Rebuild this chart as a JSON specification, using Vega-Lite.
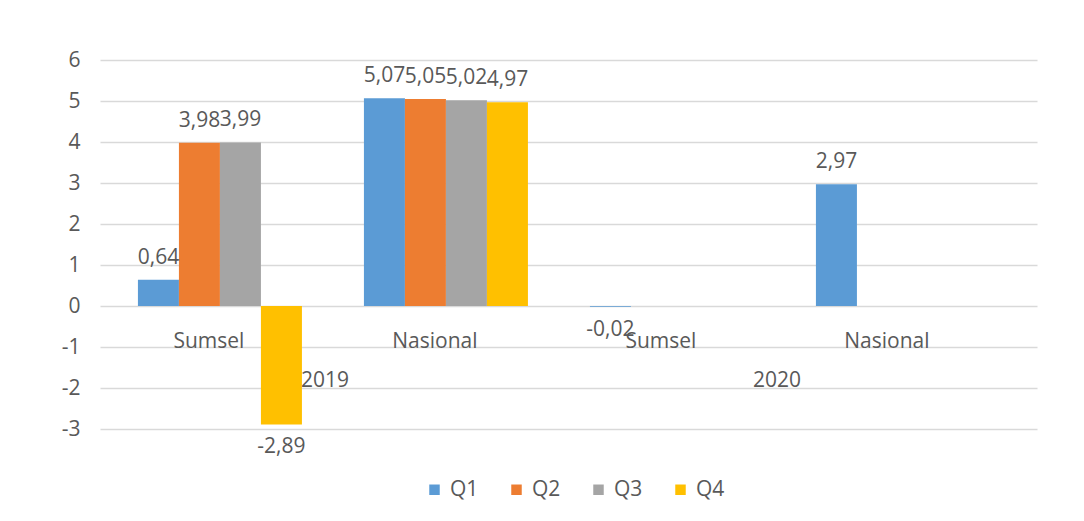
{
  "$schema": "https://vega.github.io/schema/vega-lite/v6.json",
  "width": 937,
  "height": 369,
  "autosize": {"type": "none"},
  "padding": {"left": 100, "top": 60, "right": 47, "bottom": 92},
  "background": "white",
  "config": {
    "view": {"stroke": null},
    "font": "Open Sans",
    "locale": {"number": {"decimal": ",", "thousands": ".", "grouping": [3], "currency": ["", ""], "minus": "-"}}
  },
  "data": {
    "values": [
      {"year": "2019", "region": "Sumsel", "group": "2019 Sumsel", "quarter": "Q1", "value": 0.64},
      {"year": "2019", "region": "Sumsel", "group": "2019 Sumsel", "quarter": "Q2", "value": 3.98},
      {"year": "2019", "region": "Sumsel", "group": "2019 Sumsel", "quarter": "Q3", "value": 3.99},
      {"year": "2019", "region": "Sumsel", "group": "2019 Sumsel", "quarter": "Q4", "value": -2.89},
      {"year": "2019", "region": "Nasional", "group": "2019 Nasional", "quarter": "Q1", "value": 5.07},
      {"year": "2019", "region": "Nasional", "group": "2019 Nasional", "quarter": "Q2", "value": 5.05},
      {"year": "2019", "region": "Nasional", "group": "2019 Nasional", "quarter": "Q3", "value": 5.02},
      {"year": "2019", "region": "Nasional", "group": "2019 Nasional", "quarter": "Q4", "value": 4.97},
      {"year": "2020", "region": "Sumsel", "group": "2020 Sumsel", "quarter": "Q1", "value": -0.02},
      {"year": "2020", "region": "Nasional", "group": "2020 Nasional", "quarter": "Q1", "value": 2.97}
    ]
  },
  "layer": [
    {
      "mark": {"type": "bar"},
      "encoding": {
        "x": {"field": "group", "type": "nominal", "scale": {"type": "band", "domain": ["2019 Sumsel", "2019 Nasional", "2020 Sumsel", "2020 Nasional"], "paddingInner": 0, "paddingOuter": 0.073, "align": 0.21}, "axis": null},
        "xOffset": {"field": "quarter", "type": "nominal", "scale": {"domain": ["Q1", "Q2", "Q3", "Q4"], "paddingInner": 0, "paddingOuter": 0.756}},
        "y": {"field": "value", "type": "quantitative", "scale": {"domain": [-3, 6], "nice": false, "zero": true},
          "axis": {"values": [-3, -2, -1, 0, 1, 2, 3, 4, 5, 6], "grid": true, "gridColor": "#d9d9d9", "gridWidth": 1.5, "domain": false, "ticks": false, "labelFontSize": 21, "labelColor": "#595959", "labelPadding": 20, "title": null}},
        "color": {"field": "quarter", "type": "nominal", "scale": {"domain": ["Q1", "Q2", "Q3", "Q4"], "range": ["#5B9BD5", "#ED7D31", "#A5A5A5", "#FFC000"]},
          "legend": {"orient": "none", "legendX": 324, "legendY": 419, "direction": "horizontal", "title": null, "symbolType": "square", "symbolSize": 110, "symbolStrokeWidth": 0, "labelFontSize": 21, "labelColor": "#595959", "columnPadding": 27, "labelOffset": 5}}
      }
    },
    {
      "transform": [{"filter": "datum.value >= 0"}],
      "mark": {"type": "text", "baseline": "bottom", "dy": -12, "fontSize": 21, "color": "#595959"},
      "encoding": {
        "x": {"field": "group", "type": "nominal", "scale": {"type": "band", "domain": ["2019 Sumsel", "2019 Nasional", "2020 Sumsel", "2020 Nasional"], "paddingInner": 0, "paddingOuter": 0.073, "align": 0.21}, "axis": null},
        "xOffset": {"field": "quarter", "type": "nominal", "scale": {"domain": ["Q1", "Q2", "Q3", "Q4"], "paddingInner": 0, "paddingOuter": 0.756}},
        "y": {"field": "value", "type": "quantitative"},
        "text": {"field": "value", "type": "quantitative", "format": ".2f"}
      }
    },
    {
      "transform": [{"filter": "datum.value < 0"}],
      "mark": {"type": "text", "baseline": "top", "dy": 12, "fontSize": 21, "color": "#595959"},
      "encoding": {
        "x": {"field": "group", "type": "nominal", "scale": {"type": "band", "domain": ["2019 Sumsel", "2019 Nasional", "2020 Sumsel", "2020 Nasional"], "paddingInner": 0, "paddingOuter": 0.073, "align": 0.21}, "axis": null},
        "xOffset": {"field": "quarter", "type": "nominal", "scale": {"domain": ["Q1", "Q2", "Q3", "Q4"], "paddingInner": 0, "paddingOuter": 0.756}},
        "y": {"field": "value", "type": "quantitative"},
        "text": {"field": "value", "type": "quantitative", "format": ".2f"}
      }
    },
    {
      "transform": [{"filter": "datum.quarter == 'Q1'"}],
      "mark": {"type": "text", "baseline": "middle", "align": "center", "dx": -11, "fontSize": 21, "color": "#595959"},
      "encoding": {
        "x": {"field": "group", "type": "nominal", "bandPosition": 0.5, "scale": {"type": "band", "domain": ["2019 Sumsel", "2019 Nasional", "2020 Sumsel", "2020 Nasional"], "paddingInner": 0, "paddingOuter": 0.073, "align": 0.21}, "axis": null},
        "y": {"datum": -0.88},
        "text": {"field": "region", "type": "nominal"}
      }
    },
    {
      "transform": [{"filter": "datum.quarter == 'Q1' && datum.region == 'Nasional'"}],
      "mark": {"type": "text", "baseline": "middle", "align": "center", "dx": -8, "fontSize": 21, "color": "#595959"},
      "encoding": {
        "x": {"field": "year", "type": "nominal", "bandPosition": 0.5, "scale": {"type": "band", "domain": ["2019", "2020"], "paddingInner": 0, "paddingOuter": 0.0365, "align": 0.21}, "axis": null},
        "y": {"datum": -1.83},
        "text": {"field": "year", "type": "nominal"}
      }
    }
  ],
  "resolve": {"scale": {"x": "independent"}}
}
